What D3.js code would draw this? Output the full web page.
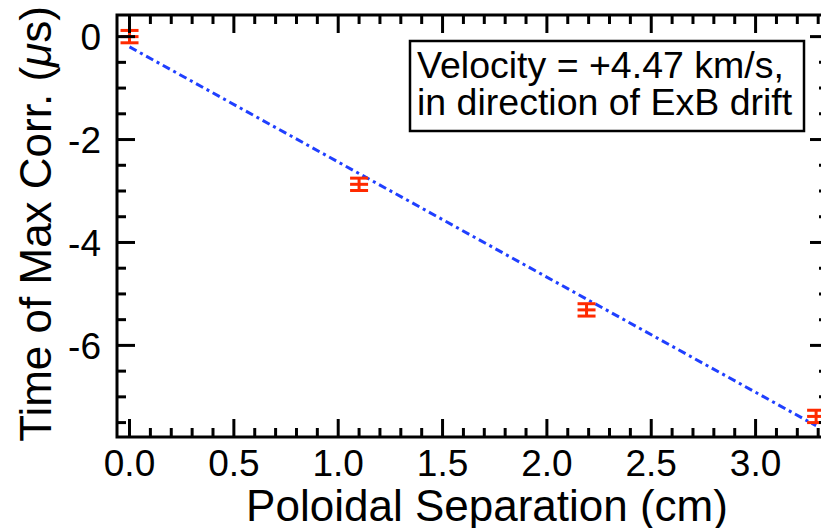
<!DOCTYPE html>
<html>
<head>
<meta charset="utf-8">
<script src="https://cdn.jsdelivr.net/npm/d3@7"></script>
<style>
  body { margin: 0; background: #fff; }
  svg { display: block; font-family: "Liberation Sans", Arial, Helvetica, sans-serif; }
</style>
</head>
<body>
<div id="chart"></div>
<script>
// data
const separation = [0.0, 1.1, 2.19, 3.29];        // cm
const maxCorrTime = [0.0, -2.87, -5.31, -7.38];   // microseconds
const timeErr = [0.12, 0.12, 0.12, 0.12];
const fitX = [0.0, 3.29];
const fitY = [-0.2, -7.56];
const xTicks = [0, 0.5, 1, 1.5, 2, 2.5, 3];
const yTicks = [0, -2, -4, -6];
const boxLines = ["Velocity = +4.47 km/s,", "in direction of ExB drift"];

const width = 821, height = 528;
const plot = { left: 117, right: 828, top: 15, bottom: 437 };

const svg = d3.select("#chart").append("svg")
    .attr("width", width)
    .attr("height", height);

const x = d3.scaleLinear().domain([-0.06, 3.347]).range([plot.left, plot.right]);
const y = d3.scaleLinear().domain([-7.78, 0.42]).range([plot.bottom, plot.top]);

const majorLen = 18, minorLen = 9;
const xMinor = d3.range(0, 3.35, 0.1).filter(v => Math.abs(v * 2 - Math.round(v * 2)) > 1e-6);
const yMinor = d3.range(-7.5, 0.45, 0.5).filter(v => Math.abs(v / 2 - Math.round(v / 2)) > 1e-6);

// fit line (drawn under the points)
svg.append("path")
    .datum(fitX.map((d, i) => [d, fitY[i]]))
    .attr("d", d3.line().x(d => x(d[0])).y(d => y(d[1])))
    .attr("fill", "none")
    .attr("stroke", "#1f3fff")
    .attr("stroke-width", 3)
    .attr("stroke-dasharray", "8,4,3,4");

// error bars
const pts = separation.map((d, i) => ({ x: d, y: maxCorrTime[i], e: timeErr[i] }));
const bars = svg.append("g").attr("stroke", "#ff2a00").attr("stroke-width", 3);
pts.forEach(p => {
    const cx = x(p.x), hw = 9;
    bars.append("line").attr("x1", cx).attr("x2", cx).attr("y1", y(p.y + p.e)).attr("y2", y(p.y - p.e));
    [p.y + p.e, p.y, p.y - p.e].forEach(v => {
        bars.append("line").attr("x1", cx - hw).attr("x2", cx + hw).attr("y1", y(v)).attr("y2", y(v));
    });
});

// axes (box with ticks on all sides)
const axisG = svg.append("g").attr("stroke", "#000").attr("stroke-width", 3);
axisG.append("rect")
    .attr("x", plot.left).attr("y", plot.top)
    .attr("width", plot.right - plot.left).attr("height", plot.bottom - plot.top)
    .attr("fill", "none");

function xTick(v, len) {
    axisG.append("line").attr("x1", x(v)).attr("x2", x(v)).attr("y1", plot.bottom).attr("y2", plot.bottom - len);
    axisG.append("line").attr("x1", x(v)).attr("x2", x(v)).attr("y1", plot.top).attr("y2", plot.top + len);
}
function yTick(v, len) {
    axisG.append("line").attr("y1", y(v)).attr("y2", y(v)).attr("x1", plot.left).attr("x2", plot.left + len);
    axisG.append("line").attr("y1", y(v)).attr("y2", y(v)).attr("x1", plot.right).attr("x2", plot.right - len);
}
xTicks.forEach(v => xTick(v, majorLen));
xMinor.forEach(v => xTick(v, minorLen));
yTicks.forEach(v => yTick(v, majorLen));
yMinor.forEach(v => yTick(v, minorLen));

// tick labels
svg.append("g").selectAll("text")
    .data(xTicks)
    .enter()
    .append("text")
    .attr("x", d => x(d))
    .attr("y", 476)
    .attr("text-anchor", "middle")
    .style("font-size", "37px")
    .text(d => d3.format(".1f")(d));

svg.append("g").selectAll("text")
    .data(yTicks)
    .enter()
    .append("text")
    .attr("x", 101)
    .attr("y", d => y(d))
    .attr("dy", "0.36em")
    .attr("text-anchor", "end")
    .style("font-size", "37px")
    .text(d => d);

// axis titles
svg.append("text")
    .attr("x", 487)
    .attr("y", 521)
    .attr("text-anchor", "middle")
    .style("font-size", "44px")
    .text("Poloidal Separation (cm)");

svg.append("text")
    .attr("transform", "translate(51,224) rotate(-90)")
    .attr("text-anchor", "middle")
    .style("font-size", "44px")
    .text("Time of Max Corr. (")
    .append("tspan").style("font-style", "italic").text("μ")
    .select(function () { return this.parentNode; })
    .append("tspan").text("s)");

// annotation box
svg.append("rect")
    .attr("x", 410).attr("y", 41)
    .attr("width", 394).attr("height", 90)
    .attr("fill", "#fff")
    .attr("stroke", "#000")
    .attr("stroke-width", 2.5);

svg.append("g").selectAll("text")
    .data(boxLines)
    .enter()
    .append("text")
    .attr("x", 417)
    .attr("y", (d, i) => 78 + i * 37)
    .style("font-size", "37.5px")
    .text(d => d);
</script>
</body>
</html>
